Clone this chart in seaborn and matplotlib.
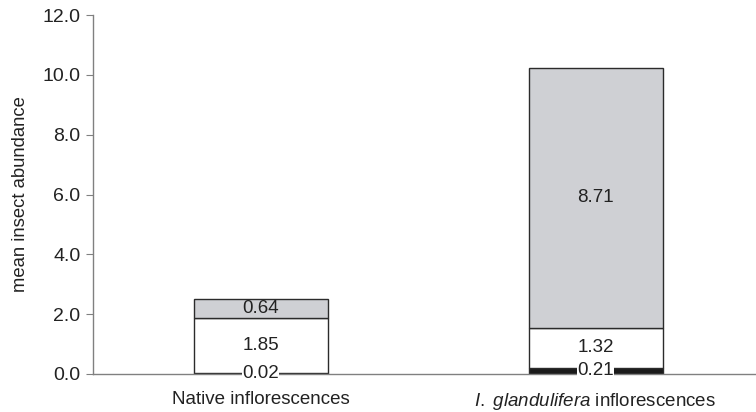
import matplotlib
matplotlib.use("Agg")
import matplotlib.pyplot as plt
import seaborn as sns
import pandas as pd
import numpy as np

categories = ["Native", "I. glandulifera"]
bottom_vals = [0.02, 0.21]
middle_vals = [1.85, 1.32]
top_vals = [0.64, 8.71]
yticks = [0.0, 2.0, 4.0, 6.0, 8.0, 10.0, 12.0]

sns.set_style("white")
plt.rcParams['font.family'] = ['Liberation Sans', 'DejaVu Sans']
plt.rcParams['mathtext.fontset'] = 'custom'
plt.rcParams['mathtext.rm'] = 'Liberation Sans'
plt.rcParams['mathtext.it'] = 'Liberation Sans:italic'

fig = plt.figure(figsize=(7.56, 4.12), dpi=100)
W, H = 756, 412
x0, x1 = 93, 763
ytop, ybot = 15, 374
ax = fig.add_axes([x0 / W, 1 - ybot / H, (x1 - x0) / W, (ybot - ytop) / H])

df = pd.DataFrame({"cat": categories, "b": bottom_vals, "m": middle_vals, "t": top_vals})
df["mb"] = df["b"]
df["tb"] = df["b"] + df["m"]

edge = "#2b2b2b"
sns.barplot(data=df, x="cat", y="b", color="#1a1a1a", edgecolor=edge, linewidth=1.0,
            width=0.4, saturation=1, ax=ax)
sns.barplot(data=df, x="cat", y="m", bottom=df["mb"], color="white", edgecolor=edge,
            linewidth=1.0, width=0.4, saturation=1, ax=ax)
sns.barplot(data=df, x="cat", y="t", bottom=df["tb"], color="#cfd0d4", edgecolor=edge,
            linewidth=1.0, width=0.4, saturation=1, ax=ax)

fs = 13.5
for i in range(len(categories)):
    b, m, t = bottom_vals[i], middle_vals[i], top_vals[i]
    ax.text(i, b / 2, f"{b:.2f}", ha="center", va="center", fontsize=fs, color="#222222",
            bbox=dict(facecolor="white", edgecolor="none", pad=0.3))
    ax.text(i, b + m / 2, f"{m:.2f}", ha="center", va="center", fontsize=fs, color="#222222")
    ax.text(i, b + m + t / 2, f"{t:.2f}", ha="center", va="center", fontsize=fs, color="#222222")

ax.set_xlim(-0.5, 1.5)
ax.set_ylim(0, 12)
ax.set_yticks(yticks)
ax.set_yticklabels([f"{v:.1f}" for v in yticks], fontsize=14, color="#222222")
ax.set_ylabel("mean insect abundance", fontsize=13.3, color="#222222", labelpad=10)
ax.set_xlabel("")
ax.set_xticks([0, 1])
ax.set_xticklabels(["Native inflorescences", "$\\it{I.\\ glandulifera}$ inflorescences"],
                   fontsize=13.5, color="#222222")
ax.tick_params(axis="x", which="major", length=0, pad=12)
ax.set_xticks([0.5], minor=True)
ax.tick_params(axis="x", which="minor", length=4, color="#808080", direction="out")
ax.tick_params(axis="y", length=5, color="#808080", direction="out", pad=4, left=True)

for s in ["top", "right"]:
    ax.spines[s].set_visible(False)
for s in ["left", "bottom"]:
    ax.spines[s].set_color("#808080")
    ax.spines[s].set_linewidth(1.0)

fig.savefig("out.png", dpi=100)
